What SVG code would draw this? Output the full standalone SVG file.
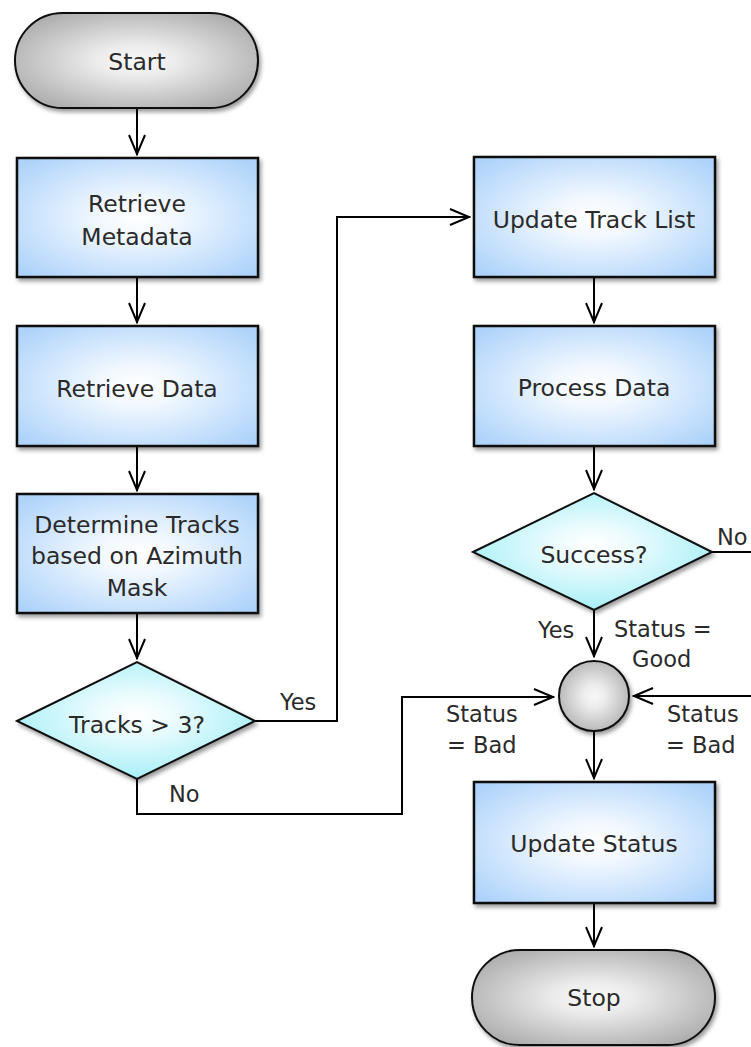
<svg xmlns="http://www.w3.org/2000/svg" width="751" height="1047" viewBox="0 0 751 1047">
<defs>
<radialGradient id="gBlue" cx="50%" cy="50%" r="65%">
<stop offset="0" stop-color="#ffffff"/>
<stop offset="0.25" stop-color="#f2f8ff"/>
<stop offset="1" stop-color="#aed3fa"/>
</radialGradient>
<radialGradient id="gCyan" cx="50%" cy="45%" r="60%">
<stop offset="0" stop-color="#ffffff"/>
<stop offset="0.25" stop-color="#eefcfe"/>
<stop offset="1" stop-color="#9eeef6"/>
</radialGradient>
<radialGradient id="gGray" cx="50%" cy="50%" r="65%">
<stop offset="0" stop-color="#f8f8f8"/>
<stop offset="0.25" stop-color="#ececec"/>
<stop offset="1" stop-color="#a4a4a4"/>
</radialGradient>
<filter id="shadow" x="-10%" y="-10%" width="125%" height="130%">
<feDropShadow dx="2" dy="3" stdDeviation="2" flood-color="#000" flood-opacity="0.4"/>
</filter>
<marker id="arr" viewBox="0 0 22 18" refX="21" refY="9" markerWidth="22" markerHeight="18" markerUnits="userSpaceOnUse" orient="auto">
<path d="M1,1 L20,9 L1,17" fill="none" stroke="#000" stroke-width="2"/>
</marker>
</defs>
<style>
.box{fill:url(#gBlue);stroke:#111;stroke-width:2.5;filter:url(#shadow)}
.dia{fill:url(#gCyan);stroke:#111;stroke-width:2;filter:url(#shadow)}
.term{fill:url(#gGray);stroke:#111;stroke-width:2;filter:url(#shadow)}
.t{font-family:"DejaVu Sans",sans-serif;font-size:23.5px;fill:#2a2a2a;text-anchor:middle}
.lbl{font-family:"DejaVu Sans",sans-serif;font-size:22.5px;fill:#2a2a2a}
.c{fill:none;stroke:#000;stroke-width:2}
</style>
<g id="connectors">
<path class="c" d="M137,108 V155" marker-end="url(#arr)"/>
<path class="c" d="M137,277 V323" marker-end="url(#arr)"/>
<path class="c" d="M137,446 V491" marker-end="url(#arr)"/>
<path class="c" d="M137,613 V659" marker-end="url(#arr)"/>
<path class="c" d="M255,721 H337 V217 H470" marker-end="url(#arr)"/>
<path class="c" d="M137,779 V814 H402 V697 H554" marker-end="url(#arr)"/>
<path class="c" d="M594,277 V323" marker-end="url(#arr)"/>
<path class="c" d="M594,446 V490" marker-end="url(#arr)"/>
<path class="c" d="M594,610 V657" marker-end="url(#arr)"/>
<path class="c" d="M712,552 H751"/>
<path class="c" d="M751,696 H633" marker-end="url(#arr)"/>
<path class="c" d="M594,731 V779" marker-end="url(#arr)"/>
<path class="c" d="M594,903 V947" marker-end="url(#arr)"/>
<text class="lbl" x="280" y="710">Yes</text>
<text class="lbl" x="169" y="802">No</text>
<text class="lbl" x="717" y="545">No</text>
<text class="lbl" x="538" y="638">Yes</text>
<text class="lbl" x="614" y="637">Status =</text>
<text class="lbl" x="632" y="667">Good</text>
<text class="lbl" x="446" y="722">Status</text>
<text class="lbl" x="447" y="753">= Bad</text>
<text class="lbl" x="667" y="722">Status</text>
<text class="lbl" x="666" y="753">= Bad</text>
</g>
<g id="start">
<rect class="term" x="15" y="13" width="243" height="95" rx="47.5"/>
<text class="t" x="137" y="70">Start</text>
</g>
<g id="retrieve-metadata">
<rect class="box" x="17" y="158" width="241" height="119"/>
<text class="t" x="137" y="212">Retrieve</text>
<text class="t" x="137" y="245">Metadata</text>
</g>
<g id="retrieve-data">
<rect class="box" x="17" y="326" width="241" height="120"/>
<text class="t" x="137" y="397">Retrieve Data</text>
</g>
<g id="determine-tracks">
<rect class="box" x="17" y="494" width="241" height="119"/>
<text class="t" x="137" y="533">Determine Tracks</text>
<text class="t" x="137" y="564">based on Azimuth</text>
<text class="t" x="137" y="596">Mask</text>
</g>
<g id="tracks-decision">
<polygon class="dia" points="17,721 137,662 255,721 137,779"/>
<text class="t" x="137" y="733">Tracks &gt; 3?</text>
</g>
<g id="update-track-list">
<rect class="box" x="474" y="157" width="241" height="120"/>
<text class="t" x="594" y="228">Update Track List</text>
</g>
<g id="process-data">
<rect class="box" x="474" y="326" width="241" height="120"/>
<text class="t" x="594" y="396">Process Data</text>
</g>
<g id="success-decision">
<polygon class="dia" points="473,552 594,493 712,552 594,610"/>
<text class="t" x="594" y="563">Success?</text>
</g>
<g id="merge">
<circle class="term" cx="594" cy="696" r="35"/>
</g>
<g id="update-status">
<rect class="box" x="474" y="782" width="241" height="121"/>
<text class="t" x="594" y="852">Update Status</text>
</g>
<g id="stop">
<rect class="term" x="472" y="950" width="243" height="95" rx="47.5"/>
<text class="t" x="594" y="1006">Stop</text>
</g>
</svg>
